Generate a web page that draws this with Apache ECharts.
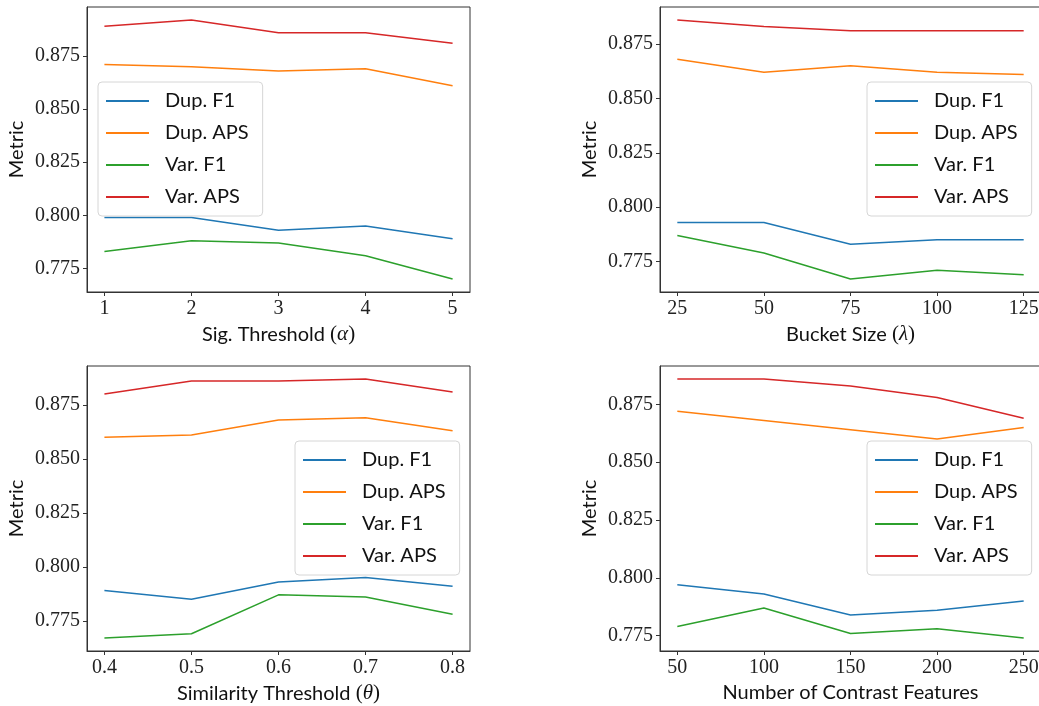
<!DOCTYPE html>
<html>
<head>
<meta charset="utf-8">
<script src="https://cdn.jsdelivr.net/npm/echarts@6/dist/echarts.min.js"></script>
<style>
  html, body { margin: 0; padding: 0; background: #fff; }
  #chart { width: 1039px; height: 706px; }
</style>
</head>
<body>
<div id="chart"></div>
<script>
  // 四个子图的数据
  const seriesNames = ['Dup. F1', 'Dup. APS', 'Var. F1', 'Var. APS']
  const colors = ['#1f77b4', '#ff7f0e', '#2ca02c', '#d62728']
  const yTicks = [0.775, 0.800, 0.825, 0.850, 0.875]

  // 左上 Sig. Threshold
  const sigX = [1, 2, 3, 4, 5]
  const sigDupF1 = [0.799, 0.799, 0.793, 0.795, 0.789]
  const sigDupAPS = [0.871, 0.870, 0.868, 0.869, 0.861]
  const sigVarF1 = [0.783, 0.788, 0.787, 0.781, 0.770]
  const sigVarAPS = [0.889, 0.892, 0.886, 0.886, 0.881]

  // 右上 Bucket Size
  const bucketX = [25, 50, 75, 100, 125]
  const bucketDupF1 = [0.793, 0.793, 0.783, 0.785, 0.785]
  const bucketDupAPS = [0.868, 0.862, 0.865, 0.862, 0.861]
  const bucketVarF1 = [0.787, 0.779, 0.767, 0.771, 0.769]
  const bucketVarAPS = [0.886, 0.883, 0.881, 0.881, 0.881]

  // 左下 Similarity Threshold
  const simX = [0.4, 0.5, 0.6, 0.7, 0.8]
  const simDupF1 = [0.789, 0.785, 0.793, 0.795, 0.791]
  const simDupAPS = [0.860, 0.861, 0.868, 0.869, 0.863]
  const simVarF1 = [0.767, 0.769, 0.787, 0.786, 0.778]
  const simVarAPS = [0.880, 0.886, 0.886, 0.887, 0.881]

  // 右下 Number of Contrast Features
  const featX = [50, 100, 150, 200, 250]
  const featDupF1 = [0.797, 0.793, 0.784, 0.786, 0.790]
  const featDupAPS = [0.872, 0.868, 0.864, 0.860, 0.865]
  const featVarF1 = [0.779, 0.787, 0.776, 0.778, 0.774]
  const featVarAPS = [0.886, 0.886, 0.883, 0.878, 0.869]

  const sansFont = 'Lato, "Open Sans", sans-serif'
  const serifFont = '"Liberation Serif", "DejaVu Serif", serif'

  const panels = [
    {x: sigX, ys: [sigDupF1, sigDupAPS, sigVarF1, sigVarAPS], digits: 0,
      name: '{t|Sig. Threshold }{p|(}{m|α}{p|)}',
      grid: {left: 87, top: 7, width: 383, height: 285},
      legend: {left: 98, top: 82}},
    {x: bucketX, ys: [bucketDupF1, bucketDupAPS, bucketVarF1, bucketVarAPS], digits: 0,
      name: '{t|Bucket Size }{p|(}{m|λ}{p|)}',
      grid: {left: 660, top: 7, width: 381, height: 285},
      legend: {left: 867, top: 82}},
    {x: simX, ys: [simDupF1, simDupAPS, simVarF1, simVarAPS], digits: 1,
      name: '{t|Similarity Threshold }{p|(}{m|θ}{p|)}',
      grid: {left: 87, top: 366, width: 383, height: 285},
      legend: {left: 295, top: 441}},
    {x: featX, ys: [featDupF1, featDupAPS, featVarF1, featVarAPS], digits: 0,
      name: '{t|Number of Contrast Features}',
      grid: {left: 660, top: 366, width: 381, height: 285},
      legend: {left: 867, top: 441}}
  ]

  let option = {
    animation: false,
    backgroundColor: '#fff',
    grid: [], xAxis: [], yAxis: [], legend: [], series: []
  }

  panels.forEach(function (p, i) {
    // matplotlib 默认 5% 边距
    let xSpan = p.x[p.x.length - 1] - p.x[0]
    let all = [].concat.apply([], p.ys)
    let yMin = Math.min.apply(null, all)
    let yMax = Math.max.apply(null, all)
    let ySpan = yMax - yMin

    option.grid.push(Object.assign({
      show: true, borderColor: '#333', borderWidth: 1,
      containLabel: false, outerBoundsMode: 'none'
    }, p.grid))
    option.xAxis.push({
      type: 'value', gridIndex: i,
      min: p.x[0] - xSpan * 0.05, max: p.x[p.x.length - 1] + xSpan * 0.05,
      splitLine: {show: false},
      axisLine: {show: true, lineStyle: {color: '#333', width: 1}},
      axisTick: {show: true, inside: false, length: 4, customValues: p.x, lineStyle: {color: '#333'}},
      axisLabel: {
        customValues: p.x, margin: 7, color: '#222',
        fontFamily: serifFont, fontSize: 20,
        formatter: function (v) { return v.toFixed(p.digits) }
      },
      name: p.name, nameLocation: 'middle', nameGap: 32,
      nameTextStyle: {
        color: '#111',
        rich: {
          t: {fontFamily: sansFont, fontSize: 20, color: '#111'},
          p: {fontFamily: serifFont, fontSize: 21, color: '#111'},
          m: {fontFamily: serifFont, fontSize: 21, fontStyle: 'italic', color: '#111'}
        }
      }
    })
    option.yAxis.push({
      type: 'value', gridIndex: i,
      min: yMin - ySpan * 0.05, max: yMax + ySpan * 0.05,
      splitLine: {show: false},
      axisLine: {show: true, lineStyle: {color: '#333', width: 1}},
      axisTick: {show: true, inside: false, length: 4, customValues: yTicks, lineStyle: {color: '#333'}},
      axisLabel: {
        customValues: yTicks, margin: 7, color: '#222',
        fontFamily: serifFont, fontSize: 20,
        formatter: function (v) { return v.toFixed(3) }
      },
      name: 'Metric', nameLocation: 'middle', nameGap: 60,
      nameTextStyle: {color: '#111', fontFamily: sansFont, fontSize: 20}
    })
    option.legend.push(Object.assign({
      orient: 'vertical',
      data: seriesNames.map(function (n) { return {name: n, icon: 'rect'} }),
      itemWidth: 43, itemHeight: 2, itemGap: 12,
      padding: [9, 14, 9, 8],
      backgroundColor: 'rgba(255,255,255,0.8)',
      borderColor: '#d6d6d6', borderWidth: 1, borderRadius: 4,
      selectedMode: false,
      textStyle: {fontFamily: sansFont, fontSize: 20, color: '#111', lineHeight: 20, padding: [0, 0, 0, 11]}
    }, p.legend))
    p.ys.forEach(function (vals, k) {
      option.series.push({
        name: seriesNames[k], type: 'line',
        xAxisIndex: i, yAxisIndex: i,
        data: p.x.map(function (x, j) { return [x, vals[j]] }),
        showSymbol: false, symbol: 'none',
        lineStyle: {color: colors[k], width: 1.5},
        itemStyle: {color: colors[k]},
        z: 2
      })
    })
  })

  let chart = echarts.init(document.getElementById('chart'))
  chart.setOption(option)
</script>
</body>
</html>
